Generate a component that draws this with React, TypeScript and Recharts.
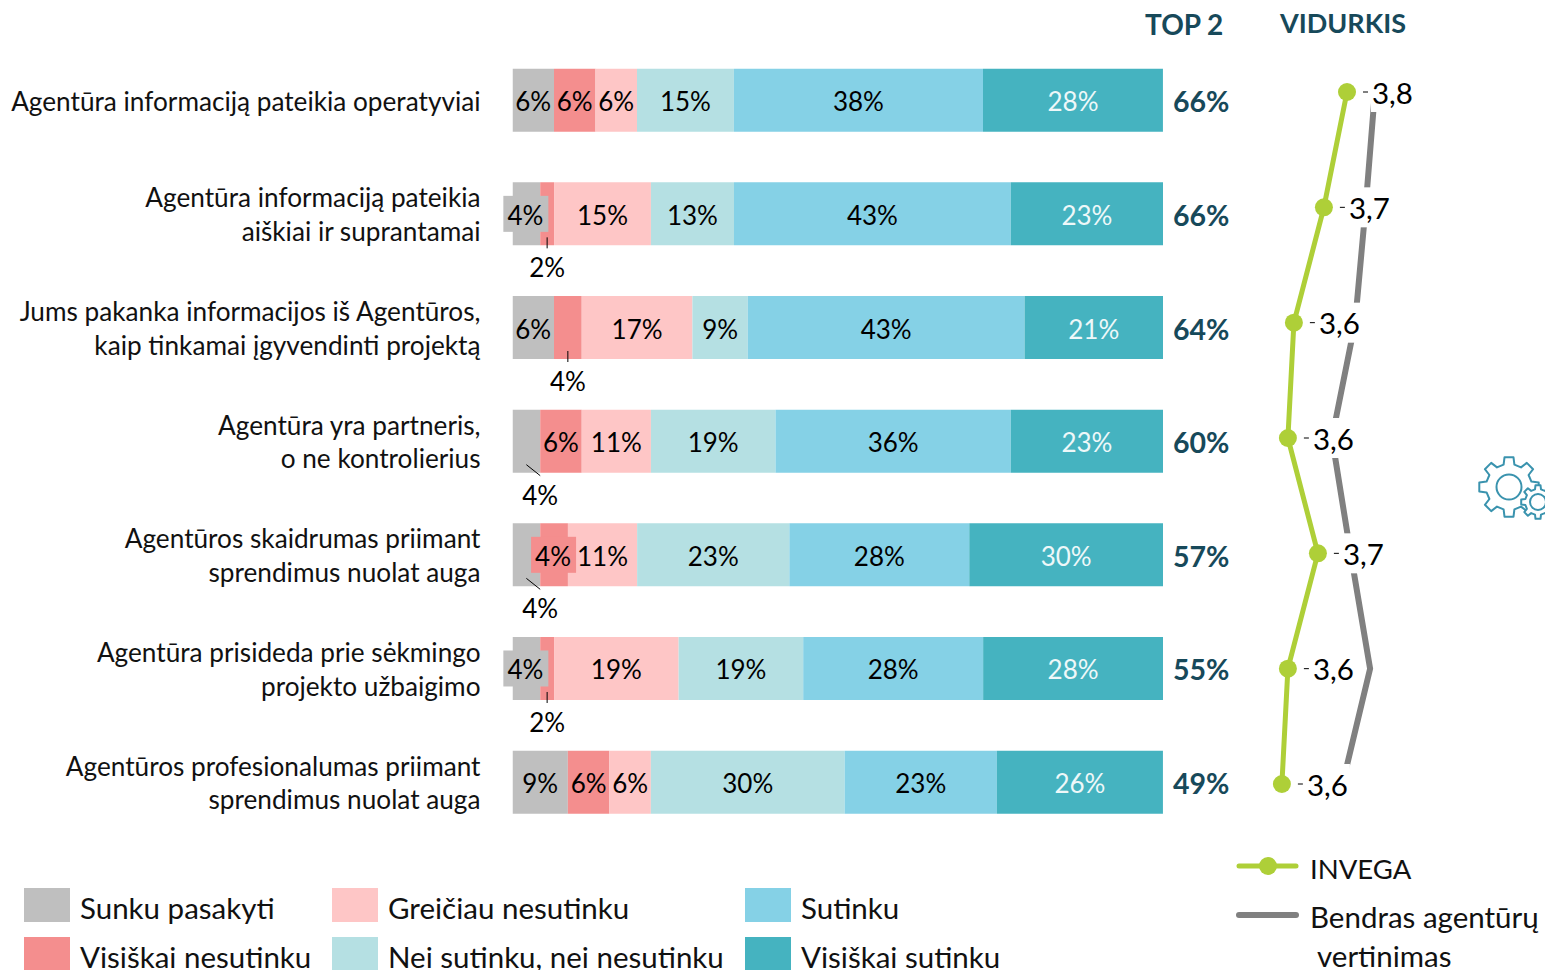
import * as React from "react";
import { BarChart, Bar, LineChart, Line, XAxis, YAxis, LabelList } from "recharts";

const FONT = "Lato, sans-serif";
const DARK = "#17495a";

const questions = [
  "Agentūra informaciją pateikia operatyviai",
  "Agentūra informaciją pateikia\naiškiai ir suprantamai",
  "Jums pakanka informacijos iš Agentūros,\nkaip tinkamai įgyvendinti projektą",
  "Agentūra yra partneris,\no ne kontrolierius",
  "Agentūros skaidrumas priimant\nsprendimus nuolat auga",
  "Agentūra prisideda prie sėkmingo\nprojekto užbaigimo",
  "Agentūros profesionalumas priimant\nsprendimus nuolat auga",
];

const sunkuPasakyti = [6.38, 4.26, 6.38, 4.26, 4.26, 4.26, 8.51];
const visiskaiNesutinku = [6.38, 2.13, 4.26, 6.38, 4.26, 2.13, 6.38];
const greiciauNesutinku = [6.38, 14.89, 17.02, 10.64, 10.64, 19.15, 6.38];
const neiNei = [14.89, 12.77, 8.51, 19.15, 23.4, 19.15, 29.79];
const sutinku = [38.3, 42.55, 42.55, 36.17, 27.66, 27.66, 23.4];
const visiskaiSutinku = [27.66, 23.4, 21.28, 23.4, 29.79, 27.66, 25.53];
const top2 = [66, 66, 64, 60, 57, 55, 49];

const invega = [3.77, 3.693, 3.593, 3.573, 3.673, 3.573, 3.553];
const bendras = [3.863, 3.832, 3.797, 3.72, 3.782, 3.847, 3.755];
const invegaLabels = ["3,8", "3,7", "3,6", "3,6", "3,7", "3,6", "3,6"];

const barData = questions.map((q, i) => ({
  q,
  s0: sunkuPasakyti[i],
  s1: visiskaiNesutinku[i],
  s2: greiciauNesutinku[i],
  s3: neiNei[i],
  s4: sutinku[i],
  s5: visiskaiSutinku[i],
  top2: top2[i],
}));

const lineData = questions.map((q, i) => ({
  q,
  invega: invega[i],
  bendras: bendras[i],
  label: invegaLabels[i],
}));

const series = [
  { key: "s0", name: "Sunku pasakyti", color: "#bfbfbf", text: "#000" },
  { key: "s1", name: "Visiškai nesutinku", color: "#f48e8e", text: "#000" },
  { key: "s2", name: "Greičiau nesutinku", color: "#fec6c6", text: "#000" },
  { key: "s3", name: "Nei sutinku, nei nesutinku", color: "#b5e0e3", text: "#000" },
  { key: "s4", name: "Sutinku", color: "#85d1e6", text: "#000" },
  { key: "s5", name: "Visiškai sutinku", color: "#45b3c0", text: "#eef8f9" },
];

// small segments whose label does not fit: series index -> rows
const belowRows: Record<number, number[]> = { 0: [3, 4], 1: [1, 2, 5] };
const boxedRows: Record<number, number[]> = { 0: [1, 5], 1: [4] };

function segmentLabel(seriesIdx: number) {
  const s = series[seriesIdx];
  return (props: any) => {
    const { x, y, width, height, value, index } = props;
    const cx = x + width / 2;
    const cy = y + height / 2;
    const text = `${Math.round(value)}%`;
    if (belowRows[seriesIdx]?.includes(index)) {
      const bottom = y + height;
      const diagonal = seriesIdx === 0;
      const tx = diagonal ? x + width : cx;
      return (
        <g>
          <line x1={cx} y1={bottom - 8} x2={tx} y2={bottom + 3} stroke="#000" strokeWidth={1} />
          <text x={tx} y={bottom + 22} textAnchor="middle" dominantBaseline="central" fontSize={26} fontFamily={FONT} fill="#000">
            {text}
          </text>
        </g>
      );
    }
    if (boxedRows[seriesIdx]?.includes(index)) {
      return (
        <g>
          <rect x={cx - 23} y={cy - 18} width={45} height={36} fill={s.color} />
          <text x={cx - 1} y={cy + 1} textAnchor="middle" dominantBaseline="central" fontSize={26} fontFamily={FONT} fill={s.text}>
            {text}
          </text>
        </g>
      );
    }
    return (
      <text x={cx} y={cy + 1} textAnchor="middle" dominantBaseline="central" fontSize={26} fontFamily={FONT} fill={s.text}>
        {text}
      </text>
    );
  };
}

function top2Label(props: any) {
  const { x, width, y, height, value } = props;
  return (
    <text x={x + width + 10} y={y + height / 2 + 1} dominantBaseline="central" fontSize={28.5} fontWeight={700} fontFamily={FONT} fill={DARK}>
      {value}%
    </text>
  );
}

function QuestionTick({ y, payload }: any) {
  const lines = String(payload.value).split("\n");
  return (
    <text x={480.5} y={y} textAnchor="end" fontSize={26.2} fontFamily={FONT} fill="#111">
      {lines.map((l, i) => (
        <tspan key={i} x={480.5} y={y + (i - (lines.length - 1) / 2) * 33.5} dominantBaseline="central">
          {l}
        </tspan>
      ))}
    </text>
  );
}

function AvgLabel(props: any) {
  const { x, y, index } = props;
  return (
    <g>
      <rect x={x + 24} y={y - 20} width={44} height={40} fill="#fff" />
      <line x1={x + 16} y1={y} x2={x + 21} y2={y} stroke="#000" strokeWidth={1} />
      <text x={x + 25} y={y} dominantBaseline="central" fontSize={29.5} fontFamily={FONT} fill="#000">
        {invegaLabels[index]}
      </text>
    </g>
  );
}

// outline of a toothed wheel for the decorative icon
function gearPath(cx: number, cy: number, outer: number, root: number, teeth: number) {
  const pts: string[] = [];
  const step = (Math.PI * 2) / teeth;
  for (let i = 0; i < teeth; i++) {
    const a = i * step - Math.PI / 2;
    const w = step * 0.19;
    const g = step * 0.3;
    const seq: [number, number][] = [
      [root, a - g],
      [outer, a - w],
      [outer, a + w],
      [root, a + g],
    ];
    seq.forEach(([r, t]) => pts.push(`${(cx + r * Math.cos(t)).toFixed(1)},${(cy + r * Math.sin(t)).toFixed(1)}`));
  }
  return "M" + pts.join("L") + "Z";
}

const abs = (left: number, top: number): React.CSSProperties => ({
  position: "absolute",
  left,
  top,
  whiteSpace: "pre",
  fontFamily: FONT,
  fontSize: 29.5,
  lineHeight: "26px",
  color: "#111",
});

const legendCols = [
  { x: 24, items: [0, 1] },
  { x: 332, items: [2, 3] },
  { x: 745, items: [4, 5] },
];
const legendRowsY = [888, 937];

export default function App() {
  return (
    <div style={{ position: "absolute", left: 0, top: 0, width: 1545, height: 970, overflow: "hidden", background: "#fff" }}>
      <div style={{ position: "absolute", left: 0, top: 0 }}>
        <BarChart
          width={1545}
          height={970}
          layout="vertical"
          data={barData}
          margin={{ top: 43.7, bottom: 130.7, left: 0, right: 382 }}
          barCategoryGap={0}
        >
          <XAxis type="number" domain={[0, 100]} hide allowDataOverflow />
          <YAxis type="category" dataKey="q" width={512.5} interval={0} axisLine={false} tickLine={false} tick={<QuestionTick />} />
          {series.map((s, i) => (
            <Bar key={s.key} dataKey={s.key} stackId="a" fill={s.color} barSize={63} isAnimationActive={false}>
              <LabelList dataKey={s.key} content={segmentLabel(i)} />
              {i === 5 && <LabelList dataKey="top2" content={top2Label} />}
            </Bar>
          ))}
        </BarChart>
      </div>
      <div style={{ position: "absolute", left: 0, top: 0 }}>
        <LineChart
          width={1545}
          height={970}
          layout="vertical"
          data={lineData}
          margin={{ top: 92, bottom: 186, left: 1236, right: 99 }}
        >
          <XAxis type="number" domain={[3.4, 4.1]} hide allowDataOverflow />
          <YAxis type="category" dataKey="q" hide />
          <Line dataKey="bendras" stroke="#808080" strokeWidth={6} dot={false} isAnimationActive={false} />
          <Line
            dataKey="invega"
            stroke="#aecf38"
            strokeWidth={5}
            dot={{ r: 9, fill: "#aecf38", stroke: "#aecf38", strokeWidth: 0 }}
            isAnimationActive={false}
          >
            <LabelList dataKey="label" content={AvgLabel} />
          </Line>
        </LineChart>
      </div>

      <div style={{ ...abs(1145, 11), fontSize: 28, fontWeight: 700, color: DARK }}>TOP 2</div>
      <div style={{ ...abs(1280, 10), fontSize: 27, fontWeight: 700, color: DARK }}>VIDURKIS</div>

      <svg width={1545} height={970} style={{ position: "absolute", left: 0, top: 0 }}>
        <path d={gearPath(1509, 487, 30, 23, 8)} fill="#fff" stroke="#3a93ae" strokeWidth={2} strokeLinejoin="round" />
        <circle cx={1509} cy={487} r={12.5} fill="#fff" stroke="#3a93ae" strokeWidth={2} />
        <path d={gearPath(1538, 502, 17, 13, 8)} fill="#fff" stroke="#3a93ae" strokeWidth={2} strokeLinejoin="round" />
        <circle cx={1538} cy={502} r={8} fill="#fff" stroke="#3a93ae" strokeWidth={2} />
        <line x1={1239} y1={866} x2={1296} y2={866} stroke="#aecf38" strokeWidth={5} strokeLinecap="round" />
        <circle cx={1268} cy={866} r={9} fill="#aecf38" />
        <line x1={1239} y1={915} x2={1296} y2={915} stroke="#808080" strokeWidth={6} strokeLinecap="round" />
      </svg>
      <div style={{ ...abs(1310, 856), fontSize: 27.5 }}>INVEGA</div>
      <div style={abs(1310, 904)}>Bendras agentūrų</div>
      <div style={abs(1317, 943)}>vertinimas</div>

      {legendCols.map((col) =>
        col.items.map((si, row) => (
          <React.Fragment key={si}>
            <div style={{ position: "absolute", left: col.x, top: legendRowsY[row], width: 46, height: 34, background: series[si].color }} />
            <div style={abs(col.x + 56, legendRowsY[row] + 7)}>{series[si].name}</div>
          </React.Fragment>
        ))
      )}
    </div>
  );
}
